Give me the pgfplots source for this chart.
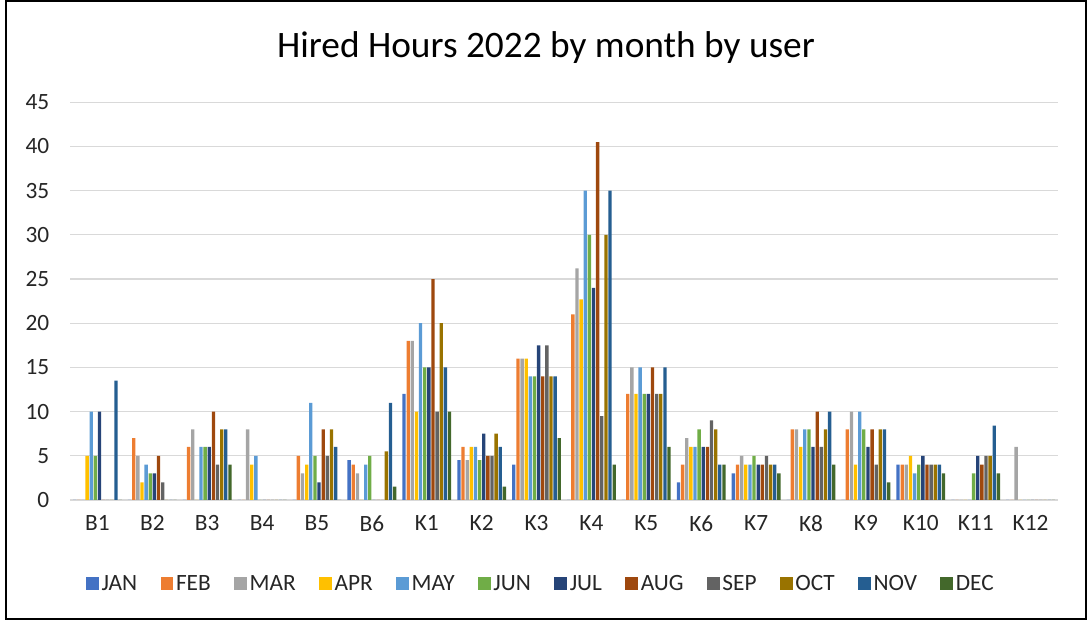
\documentclass[border=0pt]{standalone}
\usepackage{pgfplots}
\pgfplotsset{compat=1.18}
\usepackage{pgfplotstable}
\usepackage{fontspec}
\setmainfont{Carlito}
\definecolor{cJAN}{HTML}{4472C4}
\definecolor{cFEB}{HTML}{ED7D31}
\definecolor{cMAR}{HTML}{A5A5A5}
\definecolor{cAPR}{HTML}{FFC000}
\definecolor{cMAY}{HTML}{5B9BD5}
\definecolor{cJUN}{HTML}{70AD47}
\definecolor{cJUL}{HTML}{264478}
\definecolor{cAUG}{HTML}{9E480E}
\definecolor{cSEP}{HTML}{636363}
\definecolor{cOCT}{HTML}{997300}
\definecolor{cNOV}{HTML}{255E91}
\definecolor{cDEC}{HTML}{43682B}
\definecolor{gridc}{HTML}{D9D9D9}
\pgfplotstableread{
x JAN FEB MAR APR MAY JUN JUL AUG SEP OCT NOV DEC
0 0 0 0 5 10 5 10 0 0 0 13.5 0
1 0 7 5 2 4 3 3 5 2 0 0 0
2 0 6 8 0 6 6 6 10 4 8 8 4
3 0 0 8 4 5 0 0 0 0 0 0 0
4 0 5 3 4 11 5 2 8 5 8 6 0
5 4.5 4 3 0 4 5 0 0 0 5.5 11 1.5
6 12 18 18 10 20 15 15 25 10 20 15 10
7 4.5 6 4.5 6 6 4.5 7.5 5 5 7.5 6 1.5
8 4 16 16 16 14 14 17.5 14 17.5 14 14 7
9 0 21 26.2 22.7 35 30 24 40.5 9.5 30 35 4
10 0 12 15 12 15 12 12 15 12 12 15 6
11 2 4 7 6 6 8 6 6 9 8 4 4
12 3 4 5 4 4 5 4 4 5 4 4 3
13 0 8 8 6 8 8 6 10 6 8 10 4
14 0 8 10 4 10 8 6 8 4 8 8 2
15 4 4 4 5 3 4 5 4 4 4 4 3
16 0 0 0 0 0 3 5 4 5 5 8.4 3
17 0 0 6 0 0 0 0 0 0 0 0 0
}\datatable
\begin{document}
\begin{tikzpicture}
\useasboundingbox (0pt,0pt) rectangle (816pt,467.25pt);
\draw[black,line width=1.2pt] (4.5pt,3pt) rectangle (814.5pt,466.5pt);
\node[font=\fontsize{28}{33}\selectfont] at (409.5pt,431.25pt) {Hired Hours 2022 by month by user};
\begin{axis}[
  at={(52.5pt,92.25pt)}, anchor=south west,
  scale only axis, width=741pt, height=298.3pt,
  ybar=0.6pt, bar width=2.5pt,
  xmin=-0.5, xmax=17.5, ymin=0, ymax=45,
  ytick={0,5,...,45},
  xtick={0,...,17},
  xticklabels={B1,B2,B3,B4,B5,B6,K1,K2,K3,K4,K5,K6,K7,K8,K9,K10,K11,K12},
  major tick length=0pt,
  axis line style={draw=none},
  ymajorgrids, grid style={gridc,line width=0.9pt},
  tick label style={font=\fontsize{17.5}{21}\selectfont, text=black!85},
  /pgf/number format/assume math mode=true,
  yticklabel style={xshift=-12pt},
  xticklabel style={yshift=-8pt},
  legend columns=12,
  legend style={draw=none, fill=none, at={(0.477,-0.21)}, anchor=center,
    font=\fontsize{17.5}{21}\selectfont, text=black!85,
    /tikz/every even column/.append style={column sep=15.5pt}},
  legend image code/.code={\fill[#1] (-2pt,-4.6pt) rectangle (7.6pt,5pt);},
]
\addplot[fill=cJAN,draw=none] table[x=x,y=JAN]{\datatable};
\addplot[fill=cFEB,draw=none] table[x=x,y=FEB]{\datatable};
\addplot[fill=cMAR,draw=none] table[x=x,y=MAR]{\datatable};
\addplot[fill=cAPR,draw=none] table[x=x,y=APR]{\datatable};
\addplot[fill=cMAY,draw=none] table[x=x,y=MAY]{\datatable};
\addplot[fill=cJUN,draw=none] table[x=x,y=JUN]{\datatable};
\addplot[fill=cJUL,draw=none] table[x=x,y=JUL]{\datatable};
\addplot[fill=cAUG,draw=none] table[x=x,y=AUG]{\datatable};
\addplot[fill=cSEP,draw=none] table[x=x,y=SEP]{\datatable};
\addplot[fill=cOCT,draw=none] table[x=x,y=OCT]{\datatable};
\addplot[fill=cNOV,draw=none] table[x=x,y=NOV]{\datatable};
\addplot[fill=cDEC,draw=none] table[x=x,y=DEC]{\datatable};
\legend{JAN,FEB,MAR,APR,MAY,JUN,JUL,AUG,SEP,OCT,NOV,DEC}
\end{axis}
\end{tikzpicture}
\end{document}
